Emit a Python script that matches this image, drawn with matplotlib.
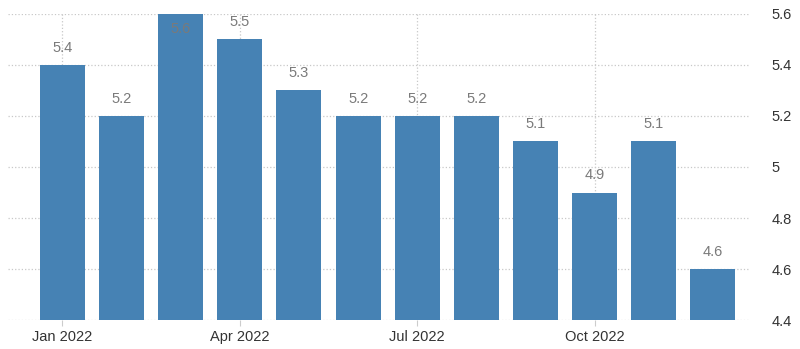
import matplotlib.pyplot as plt

plt.rcParams['font.family'] = ['Liberation Sans', 'DejaVu Sans']

months = ['Jan', 'Feb', 'Mar', 'Apr', 'May', 'Jun', 'Jul', 'Aug', 'Sep', 'Oct', 'Nov', 'Dec']
values = [5.4, 5.2, 5.6, 5.5, 5.3, 5.2, 5.2, 5.2, 5.1, 4.9, 5.1, 4.6]
tick_idx = [0, 3, 6, 9]
tick_labels = ['Jan 2022', 'Apr 2022', 'Jul 2022', 'Oct 2022']
y_ticks = [4.4, 4.6, 4.8, 5.0, 5.2, 5.4, 5.6]
y_labels = ['4.4', '4.6', '4.8', '5', '5.2', '5.4', '5.6']

fig = plt.figure(figsize=(8, 3.49), dpi=100)
ax = fig.add_axes([0.01, 0.083, 0.927, 0.877])

x = list(range(len(values)))
ax.bar(x, [v - 4.4 for v in values], bottom=4.4, width=0.76, color='#4682b4', zorder=2)

# value labels; the top bar gets its label inside
for xi, v in zip(x, values):
    if v >= 5.6:
        ax.text(xi, v - 0.03, f'{v}', ha='center', va='top', color='#7a7a7a', fontsize=10.5, zorder=3)
    else:
        ax.text(xi, v + 0.04, f'{v}', ha='center', va='bottom', color='#7a7a7a', fontsize=10.5, zorder=3)

ax.set_xlim(-0.92, 11.62)
ax.set_ylim(4.4, 5.6)
ax.set_yticks(y_ticks)
ax.set_yticklabels(y_labels)
ax.set_xticks(tick_idx)
ax.set_xticklabels(tick_labels)

ax.yaxis.tick_right()
ax.tick_params(axis='y', length=0, pad=16, labelsize=10.5, labelcolor='#333333')
ax.tick_params(axis='x', length=4, color='#cccccc', labelsize=10.5, labelcolor='#333333')

ax.grid(True, axis='both', linestyle=':', color='#c8c8c8', linewidth=0.9, zorder=0)
for s in ax.spines.values():
    s.set_visible(False)

fig.savefig('out.png', dpi=100)
